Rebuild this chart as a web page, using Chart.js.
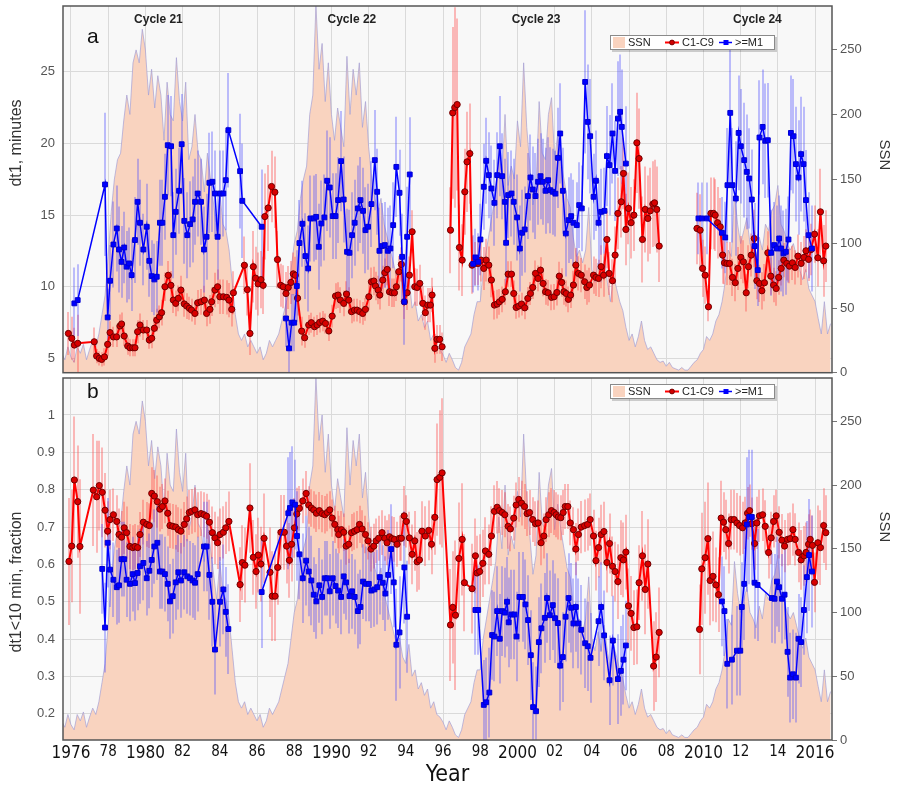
<!DOCTYPE html>
<html><head><meta charset="utf-8">
<script src="https://cdn.jsdelivr.net/npm/chart.js@4.4.1/dist/chart.umd.min.js"></script>
<style>
html,body{margin:0;padding:0;background:#fff;width:898px;height:787px;overflow:hidden}
#wa{position:absolute;left:0;top:0;width:898px;height:380px}
#wb{position:absolute;left:0;top:373px;width:898px;height:414px}
</style></head><body>
<div id="wa"><canvas id="ca"></canvas></div>
<div id="wb"><canvas id="cb"></canvas></div>
<script>
// ---------------- DATA ----------------
const xTickYears  = [1976,1978,1980,1982,1984,1986,1988,1990,1992,1994,1996,1998,2000,2002,2004,2006,2008,2010,2012,2014,2016];
const xTickLabels = ['1976','78','1980','82','84','86','88','1990','92','94','96','98','2000','02','04','06','08','2010','12','14','2016'];
const cycleLabels = ['Cycle 21','Cycle 22','Cycle 23','Cycle 24'];
const cycleYears  = [1980.7, 1991.1, 2001.0, 2012.9];
const legendLabels = ['SSN','C1-C9','>=M1'];

// Sunspot number, bi-monthly, starting 1975.5
const ssnStart = 1975.5;
const ssnValues = [
15,10,20,
12,8,20,15,22,10,
18,25,20,30,45,60,
90,125,150,165,170,195,
215,200,240,250,240,266,
250,215,235,205,230,215,
180,225,200,195,244,210,
195,225,165,175,200,170,
165,140,170,150,130,110,
140,115,110,95,70,45,
30,25,30,20,25,20,
15,20,10,15,25,20,
25,30,40,50,60,80,
100,110,135,150,160,200,
215,285,235,255,210,240,
200,180,205,190,175,245,
200,235,215,240,190,210,
175,150,135,125,135,115,
105,95,85,75,80,65,
60,75,50,55,40,45,
35,40,25,30,20,18,
14,8,15,10,4,2,
8,20,25,30,45,55,
55,80,95,110,125,140,
175,150,200,145,160,150,
195,175,240,190,160,130,
145,210,170,165,200,213,
165,185,165,150,135,128,
105,90,95,85,95,128,
80,70,85,70,90,70,
55,75,65,55,48,35,
25,30,20,28,40,25,
18,20,15,10,8,9,
5,8,4,3,2,4,
2,2,5,8,10,15,
18,28,25,30,40,45,
55,70,95,90,140,115,
100,110,120,100,95,88,
105,95,115,110,125,130,
145,115,110,100,95,100,
90,80,72,80,65,60,
55,42,30,55,30,38];

// Panel a : dt1 (minutes), C1-C9 flares
const redA_year = [
1975.86,1976.04,1976.18,1976.36,1977.25,1977.38,1977.52,1977.65,1977.80,1977.97,
1978.10,1978.28,1978.45,1978.63,1978.72,1978.86,
1979.05,1979.17,1979.32,1979.44,1979.58,1979.71,1979.89,
1980.07,1980.21,1980.34,1980.48,1980.61,1980.75,1980.87,
1981.05,1981.23,1981.37,1981.50,1981.63,1981.77,1981.91,
1982.09,1982.22,1982.36,1982.48,1982.66,1982.81,1982.99,
1983.17,1983.29,1983.47,1983.56,1983.74,1983.88,
1984.00,1984.19,1984.37,1984.49,1984.64,1984.73,
1985.32,1985.48,1985.62,1985.80,1985.92,
1986.06,1986.21,1986.33,1986.42,1986.60,1986.78,1986.96,
1987.10,1987.27,1987.41,1987.56,1987.68,1987.82,1987.95,
1988.06,1988.18,1988.40,1988.56,1988.78,1988.92,
1989.09,1989.23,1989.37,1989.53,1989.68,1989.86,
1990.04,1990.22,1990.36,1990.48,1990.66,1990.81,1990.93,
1991.08,1991.24,1991.38,1991.52,1991.68,1991.83,
1992.01,1992.15,1992.28,1992.37,1992.51,1992.60,1992.76,1992.87,
1993.00,1993.12,1993.26,1993.39,1993.49,1993.62,1993.76,1993.92,
1994.07,1994.19,1994.34,1994.48,1994.61,1994.75,1994.91,
1995.05,1995.18,1995.32,1995.41,1995.56,1995.68,1995.82,1995.95,
1996.20,
1996.40,1996.52,1996.63,1996.76,1996.88,1997.03,1997.17,1997.29,1997.44,1997.56,
1997.74,1997.89,1998.05,1998.19,1998.32,1998.46,1998.60,1998.76,1998.91,
1999.03,1999.18,1999.35,1999.50,1999.68,1999.80,1999.93,
2000.07,2000.22,2000.39,2000.56,2000.70,2000.82,2000.97,
2001.11,2001.24,2001.38,2001.51,2001.65,2001.83,2001.97,
2002.12,2002.25,2002.38,2002.50,2002.62,2002.74,2002.86,
2003.01,2003.14,2003.28,2003.43,2003.61,2003.73,2003.87,
2004.09,2004.22,2004.36,2004.50,2004.63,2004.81,2004.93,
2005.11,2005.25,2005.40,2005.58,2005.70,2005.83,2005.97,
2006.11,2006.26,2006.42,2006.54,2006.72,2006.87,
2007.01,2007.14,2007.28,2007.37,2007.49,2007.62,
2008.60,
2009.65,2009.82,2009.95,2010.09,2010.27,2010.40,2010.54,2010.63,2010.76,2010.90,
2011.03,2011.13,2011.26,2011.40,2011.56,2011.71,2011.85,
2012.01,2012.15,2012.30,2012.42,2012.57,2012.73,2012.87,
2013.01,2013.14,2013.28,2013.46,2013.62,2013.77,2013.91,
2014.04,2014.18,2014.32,2014.48,2014.62,2014.78,2014.93,
2015.08,2015.25,2015.40,2015.51,2015.65,2015.79,2015.97,
2016.15,2016.29,2016.46,2016.58];
const redA_val = [
6.74,6.40,5.93,6.05,6.16,5.16,5.00,4.93,5.10,5.98,
6.80,6.50,6.50,7.26,7.40,6.56,
5.86,5.74,5.74,5.74,6.86,7.33,6.98,
6.98,6.28,6.40,7.10,7.67,7.90,8.19,
10.0,10.8,10.1,9.07,8.84,9.19,9.77,
8.80,8.65,8.50,8.37,8.14,8.88,8.95,
9.07,8.14,8.42,8.95,9.77,10.0,
9.30,9.30,9.26,9.07,8.42,9.58,
11.5,9.80,6.74,11.4,10.6,
10.2,10.5,10.1,14.9,15.5,17.0,16.6,
11.9,10.1,10.0,9.53,9.95,10.3,10.9,
10.8,9.2,6.9,6.44,7.33,7.49,
7.21,7.33,7.51,7.60,7.44,6.91,
7.95,9.35,9.42,9.07,8.84,9.49,9.07,
8.26,8.37,8.37,8.26,8.14,8.42,
9.30,10.35,10.40,10.05,9.77,9.42,10.47,10.98,
11.21,9.65,9.58,9.58,10.0,11.05,11.56,8.95,
9.58,10.81,13.84,10.0,9.95,10.23,8.84,
8.19,8.72,8.72,9.42,5.70,6.33,6.33,5.81,
null,
13.95,22.14,22.51,22.72,12.74,11.86,16.63,18.72,19.30,11.51,
11.63,11.63,11.86,11.28,11.86,11.51,10.47,8.72,8.79,
8.95,9.12,9.65,10.88,10.88,9.53,8.56,
8.65,8.79,8.53,9.19,9.53,9.95,10.93,
10.58,11.16,10.23,9.65,9.58,9.26,9.30,
9.6,10.74,10.3,9.65,9.53,9.12,9.42,
10.12,11.51,10.93,10.81,10.35,9.95,10.12,
10.81,10.65,10.58,11.40,10.81,13.30,10.93,
10.42,12.21,15.12,15.93,17.91,14.0,15.47,
14.47,15.0,20.05,18.95,13.30,15.40,
14.77,15.30,15.77,15.86,15.40,12.84,
null,
14.07,13.95,11.28,10.81,8.60,15.12,15.12,15.0,14.47,14.19,
12.21,11.67,11.63,11.63,10.65,10.28,11.28,
12.05,11.74,9.58,11.40,12.21,13.37,10.42,
10.23,9.72,10.28,12.37,10.74,10.12,9.88,
10.65,11.28,11.86,11.63,11.44,11.67,11.35,
12.14,11.63,12.05,12.51,11.91,12.60,13.67,
12.02,15.23,11.81,12.84];
const redA_err = [
1.5,1.5,1.2,2.0,1.0,0.5,0.5,0.5,0.6,0.8,
0.8,0.7,0.7,0.8,0.8,0.7,
0.6,0.6,0.6,0.6,0.8,0.8,0.7,
0.7,0.6,0.7,0.8,0.8,0.8,0.9,
1.0,1.0,1.0,0.9,0.9,0.9,1.0,
0.9,0.9,0.8,0.8,0.8,0.9,0.9,
1.0,0.9,1.0,1.0,1.2,1.2,
1.2,1.2,1.2,1.2,1.2,1.5,
2.0,1.8,1.5,2.5,2.2,
2.2,2.0,2.0,3.0,3.0,2.5,2.5,
2.0,1.5,1.5,1.5,1.5,1.5,1.5,
1.3,1.2,1.0,0.7,0.7,0.7,
0.7,0.7,0.7,0.7,0.7,0.7,
0.8,0.9,0.9,0.9,0.9,0.9,0.9,
0.8,0.8,0.8,0.8,0.8,0.8,
0.9,1.0,1.0,1.0,1.0,1.0,1.0,1.0,
1.1,1.0,1.0,1.0,1.0,1.1,1.2,1.2,
1.2,1.3,1.5,1.3,1.3,1.3,1.2,
1.2,1.2,1.2,1.2,1.0,1.0,1.0,1.0,
null,
3,6,7,6,3,2.5,3,3.5,3.5,2,
1.5,1.5,1.5,1.5,1.5,1.3,1.2,1.0,1.0,
0.9,0.9,0.9,0.9,0.9,0.9,0.8,
0.8,0.8,0.8,0.8,0.8,0.8,0.9,
0.9,0.9,0.9,0.9,0.9,0.9,0.9,
0.9,1.0,1.0,0.9,0.9,0.9,0.9,
1.0,1.2,1.2,1.2,1.2,1.2,1.2,
1.3,1.3,1.3,1.5,1.5,2.0,1.5,
1.5,2.0,2.5,2.5,2.5,2.5,2.5,
2.5,2.5,3.5,3.5,3.0,3.0,
3.0,3.0,3.0,3.0,3.0,2.5,
null,
2.5,2.5,2.0,2.0,1.0,2.5,2.5,2.5,2.5,2.0,
2.0,1.5,1.5,1.5,1.3,1.3,1.5,
1.5,1.5,1.3,1.5,1.5,2.0,1.3,
1.3,1.3,1.3,1.5,1.3,1.2,1.2,
1.2,1.2,1.2,1.2,1.2,1.2,1.2,
1.5,1.5,1.5,1.5,1.5,1.8,2.0,
2.0,3.0,2.5,2.5];

// Panel a : dt1 (minutes), >=M1 flares
const blueA_year = [
1976.18,1976.36,1977.83,1977.97,1978.10,1978.28,1978.46,1978.58,1978.72,1978.86,1978.99,
1979.12,1979.26,1979.44,1979.58,1979.71,1979.89,
1980.07,1980.21,1980.34,1980.48,1980.61,1980.78,1980.91,
1981.05,1981.20,1981.38,1981.50,1981.63,1981.81,1981.95,
1982.09,1982.25,1982.40,1982.54,1982.67,1982.81,1982.99,
1983.15,1983.29,1983.44,1983.60,1983.74,1983.88,
1984.01,1984.19,1984.32,1984.46,1985.09,1985.21,1986.25,
1986.90,
1987.56,1987.72,1987.86,1988.00,1988.14,1988.28,1988.44,1988.60,1988.75,1988.87,
1989.05,1989.18,1989.32,1989.46,1989.62,1989.77,1989.91,
1990.07,1990.22,1990.36,1990.52,1990.66,1990.84,1990.97,
1991.11,1991.25,1991.42,1991.56,1991.70,1991.83,1991.97,
1992.15,1992.33,1992.46,1992.58,1992.72,1992.87,
1993.03,1993.17,1993.32,1993.49,1993.66,1993.80,1993.92,
1994.07,1994.21,
1996.00,
1997.62,1997.74,1997.89,1998.01,1998.19,1998.32,1998.46,1998.60,1998.76,1998.91,
1999.05,1999.18,1999.32,1999.39,1999.50,1999.68,1999.80,1999.98,
2000.13,2000.25,2000.39,2000.56,2000.70,2000.82,2000.97,
2001.11,2001.24,2001.36,2001.51,2001.65,2001.77,2001.90,
2002.04,2002.18,2002.30,2002.44,2002.60,2002.75,2002.89,
2003.01,2003.19,2003.32,2003.46,2003.64,2003.78,2003.91,
2004.09,2004.22,2004.36,2004.50,2004.68,2004.81,2004.95,
2005.11,2005.25,2005.40,2005.52,2005.61,2005.83,
2008.00,
2009.73,2009.91,2010.18,2010.99,
2011.17,2011.29,2011.44,2011.56,2011.74,2011.89,
2012.01,2012.19,2012.33,2012.46,2012.60,2012.75,2012.92,
2013.01,2013.18,2013.32,2013.46,2013.64,2013.80,2013.95,
2014.07,2014.18,2014.30,2014.43,2014.57,2014.70,2014.84,2014.97,
2015.11,2015.25,2015.38,2015.51,2015.65,2015.83];
const blueA_val = [
8.84,9.07,17.14,7.86,10.42,12.95,14.07,12.60,11.74,12.74,11.40,
11.63,10.81,13.26,15.93,14.47,12.60,
14.19,11.81,10.74,10.51,10.70,14.47,14.47,
16.28,19.88,19.81,13.60,15.23,16.70,19.95,
14.60,13.60,14.37,14.70,15.93,16.51,15.93,
12.60,13.49,17.26,17.33,16.51,13.49,
16.51,16.51,17.44,20.93,18.07,16.0,14.19,
null,
7.79,5.70,7.49,7.49,10.05,13.05,14.4,12.14,11.28,14.77,
14.77,14.88,12.79,14.42,14.84,17.40,16.93,
14.93,14.93,16.05,18.77,16.09,12.44,12.37,
13.60,14.47,15.47,16.05,15.30,13.95,14.19,
15.77,18.84,16.63,12.51,12.84,12.91,
12.51,12.67,14.30,18.37,16.56,12.09,8.95,
13.49,17.84,
null,
11.6,12.05,11.74,13.30,16.98,18.79,17.79,16.86,15.86,17.79,
19.81,17.72,15.93,13.07,16.40,16.51,15.93,14.84,
12.67,13.77,14.0,16.33,17.63,16.79,16.33,
17.33,17.72,17.33,16.70,17.44,16.74,16.63,
16.5,19.0,20.7,16.7,13.72,14.65,14.93,
14.47,14.30,15.70,15.47,24.30,21.51,20.51,
16.28,17.40,14.47,15.23,15.30,19.12,18.49,
20.70,18.09,21.74,22.21,21.16,18.60,
null,
14.77,14.77,14.77,13.77,
13.44,17.09,22.14,17.09,16.16,20.74,
19.81,18.84,18.02,17.56,16.09,12.84,11.16,
20.42,21.16,20.19,20.23,12.37,12.91,12.67,
13.37,12.67,12.33,12.44,13.30,20.74,20.51,18.56,
17.63,19.26,18.56,16.05,13.60,12.67];
const blueA_err = [
2.5,2.5,5,2,2.5,3,3,3,2.5,2.5,2.5,
2.5,2.5,3,3,3,2.5,
3,2.5,2.5,2.5,2.5,3,3,
3,3.5,3.5,3,3,3,3.5,
3,3,3,3,3,3,3,
3,3,3.5,3.5,3,3,
3,3,3.5,4,4,4,4,
null,
2,2,2,2,2.5,3,3,3,3,3,
3,3,3,3,3,3.5,3.5,
3,3,3,3.5,3,3,3,
3,3,3,3,3,3,3,
3,3.5,3,3,3,3,
3,3,3,3.5,3,3,3,
3.5,4,
null,
2,2,2,2.5,3,3,3,3,3,3,
3.5,3,3,3,3,3,3,3,
3,3,3,3,3,3,3,
3,3,3,3,3,3,3,
3,3.5,3.5,3,3,3,3,
3,3,3,3,5,4,4,
3,3.5,3,3,3,3.5,3.5,
3.5,3.5,4,4,4,4,
null,
2.5,2.5,2.5,2.5,
2.5,4,5,4,4,4,
4,4,4,3.5,3.5,3,2.5,
4,4,4,4,3,3,3,
3,3,3,3,3,4,4,4,
4,4,4,3.5,3,3];

// Panel b : fraction dt1<10 min, C1-C9 flares
const redB_year = [
1975.89,1976.04,1976.18,1976.36,1976.48,
1977.20,1977.38,1977.52,1977.68,1977.83,1977.97,
1978.10,1978.28,1978.46,1978.58,1978.72,1978.86,1978.99,
1979.17,1979.32,1979.44,1979.58,1979.71,1979.89,
1980.07,1980.21,1980.34,1980.48,1980.64,1980.78,1980.91,
1981.05,1981.20,1981.32,1981.47,1981.63,1981.77,1981.91,
1982.09,1982.22,1982.36,1982.48,1982.66,1982.81,1982.99,
1983.15,1983.29,1983.44,1983.60,1983.74,1983.88,
1984.01,1984.19,1984.32,1984.49,
1985.09,1985.21,1985.35,1985.62,1985.80,1985.95,
1986.07,1986.21,1986.38,1986.70,1986.82,1986.97,
1987.11,1987.29,1987.47,1987.59,1987.74,1987.86,
1988.01,1988.14,1988.28,1988.46,1988.64,1988.78,1988.92,
1989.05,1989.19,1989.35,1989.50,1989.64,1989.78,1989.91,
1990.04,1990.18,1990.34,1990.39,1990.54,1990.66,1990.79,1990.93,
1991.08,1991.24,1991.38,1991.51,1991.65,1991.83,1991.97,
1992.13,1992.28,1992.40,1992.54,1992.72,1992.87,1992.99,
1993.12,1993.26,1993.39,1993.53,1993.66,1993.76,1993.91,
1994.03,1994.19,1994.34,1994.48,1994.61,1994.73,1994.87,
1995.05,1995.23,1995.38,1995.56,1995.68,1995.82,1995.95,
1996.40,1996.52,1996.67,1996.85,1997.03,1997.15,1997.56,
1997.74,1997.83,1997.97,
1998.14,1998.28,1998.46,1998.60,1998.76,1998.91,
1999.03,1999.18,1999.32,1999.50,1999.62,1999.80,1999.93,
2000.07,2000.22,2000.38,2000.52,2000.65,2000.82,2000.97,
2001.11,2001.27,2001.42,2001.54,2001.68,2001.83,2001.97,
2002.08,2002.20,2002.33,2002.46,2002.57,2002.71,2002.84,
2003.01,2003.14,2003.28,2003.43,2003.61,2003.77,2003.91,
2004.09,2004.22,2004.36,2004.50,2004.65,2004.81,2004.95,
2005.11,2005.25,2005.40,2005.56,2005.70,2005.83,2005.97,
2006.11,2006.26,2006.42,2006.54,2006.72,2006.87,
2007.01,2007.32,2007.46,2007.62,
2008.60,
2009.79,2009.91,2010.09,2010.24,2010.36,2010.51,2010.67,2010.81,2010.95,
2011.08,2011.20,2011.35,2011.49,2011.65,2011.80,2011.94,
2012.10,2012.24,2012.37,2012.48,2012.60,2012.75,2012.87,
2013.01,2013.18,2013.32,2013.50,2013.64,2013.77,2013.91,
2014.07,2014.22,2014.36,2014.52,2014.66,2014.81,2014.93,
2015.11,2015.25,2015.40,2015.51,2015.65,2015.74,2015.86,2015.97,
2016.15,2016.29,2016.46,2016.58];
const redB_val = [
0.608,0.649,0.826,0.768,0.648,
0.799,0.781,0.811,0.793,0.745,0.689,
0.720,0.733,0.715,0.680,0.673,0.698,0.685,
0.648,0.645,0.648,0.645,0.680,0.713,
0.707,0.704,0.790,0.783,0.768,0.748,0.755,
0.770,0.737,0.704,0.702,0.700,0.693,0.689,
0.707,0.722,0.739,0.742,0.746,0.733,0.736,
0.733,0.729,0.713,0.685,0.671,0.658,
0.680,0.686,0.698,0.715,
0.546,0.605,0.598,0.751,0.619,0.581,
0.625,0.601,0.670,0.579,0.515,0.515,
0.592,0.686,0.686,0.649,0.611,0.654,
0.698,0.735,0.750,0.770,0.790,0.759,0.751,
0.746,0.737,0.744,0.736,0.733,0.739,0.746,
0.724,0.707,0.693,0.680,0.693,0.686,0.649,0.654,
0.685,0.689,0.693,0.707,0.695,0.680,0.663,
0.641,0.649,0.663,0.670,0.685,0.670,0.658,
0.674,0.669,0.667,0.654,0.670,0.670,0.730,
0.715,0.671,0.627,0.663,0.607,0.612,0.689,
0.676,0.691,0.654,0.726,0.827,0.833,0.845,
0.438,0.485,0.464,0.616,0.667,0.551,0.535,
0.623,0.577,0.581,
0.603,0.636,0.627,0.676,0.742,0.753,
0.744,0.739,0.733,0.702,0.695,0.724,0.759,
0.774,0.764,0.755,0.736,0.739,0.720,0.709,
0.711,0.658,0.676,0.720,0.733,0.744,0.739,
0.733,0.727,0.725,0.739,0.755,0.755,0.711,
0.693,0.641,0.680,0.700,0.704,0.707,0.720,
0.676,0.610,0.645,0.680,0.688,0.605,0.656,
0.595,0.581,0.554,0.618,0.612,0.633,0.489,
0.469,0.431,0.433,0.551,0.623,0.533,
0.601,0.328,0.352,0.418,
null,
0.426,0.588,0.618,0.669,0.557,0.568,0.545,0.519,0.724,
0.713,0.693,0.656,0.720,0.720,0.711,0.704,
0.698,0.711,0.737,0.744,0.709,0.656,0.711,
0.730,0.733,0.702,0.632,0.671,0.715,0.730,
0.686,0.665,0.649,0.667,0.669,0.693,0.667,
0.632,0.612,0.623,0.632,0.654,0.667,0.651,0.552,
0.658,0.645,0.704,0.685];
const redB_err = [
0.17,0.15,0.17,0.15,0.18,
0.15,0.15,0.12,0.12,0.10,0.08,
0.08,0.07,0.07,0.07,0.07,0.07,0.07,
0.06,0.06,0.06,0.06,0.06,0.06,
0.06,0.06,0.07,0.07,0.07,0.06,0.06,
0.06,0.06,0.06,0.06,0.06,0.06,0.06,
0.06,0.06,0.06,0.06,0.06,0.06,0.06,
0.06,0.06,0.06,0.07,0.07,0.07,
0.07,0.07,0.07,0.08,
0.10,0.10,0.10,0.12,0.10,0.10,
0.10,0.10,0.12,0.12,0.12,0.12,
0.10,0.10,0.10,0.10,0.10,0.10,
0.08,0.07,0.06,0.06,0.06,0.05,0.05,
0.05,0.05,0.05,0.05,0.05,0.05,0.05,
0.05,0.05,0.05,0.05,0.05,0.05,0.05,0.05,
0.05,0.05,0.05,0.05,0.05,0.05,0.05,
0.06,0.06,0.06,0.06,0.06,0.06,0.06,
0.06,0.06,0.06,0.06,0.06,0.06,0.08,
0.07,0.07,0.08,0.08,0.08,0.08,0.08,
0.08,0.08,0.08,0.10,0.15,0.18,0.20,
0.15,0.15,0.20,0.15,0.15,0.13,0.12,
0.10,0.10,0.10,
0.09,0.09,0.08,0.08,0.07,0.07,
0.06,0.06,0.06,0.06,0.06,0.06,0.06,
0.06,0.06,0.06,0.06,0.06,0.06,0.06,
0.06,0.06,0.06,0.06,0.06,0.06,0.06,
0.06,0.06,0.06,0.06,0.06,0.06,0.06,
0.06,0.07,0.07,0.07,0.07,0.07,0.07,
0.07,0.08,0.08,0.08,0.08,0.08,0.08,
0.08,0.08,0.10,0.10,0.10,0.10,0.10,
0.10,0.10,0.10,0.10,0.12,0.12,
0.12,0.12,0.12,0.12,
null,
0.12,0.15,0.15,0.15,0.12,0.12,0.10,0.10,0.10,
0.08,0.08,0.08,0.08,0.08,0.08,0.08,
0.07,0.07,0.07,0.07,0.07,0.07,0.07,
0.07,0.07,0.07,0.07,0.07,0.07,0.07,
0.07,0.07,0.07,0.07,0.07,0.07,0.07,
0.08,0.08,0.08,0.08,0.08,0.08,0.08,0.08,
0.10,0.10,0.10,0.10];

// Panel b : fraction dt1<10 min, >=M1 flares
const blueB_year = [
1977.68,1977.83,1977.97,1978.10,1978.28,1978.46,1978.58,1978.72,1978.86,1978.99,
1979.17,1979.32,1979.44,1979.58,1979.71,1979.89,
1980.07,1980.21,1980.34,1980.48,1980.64,1980.78,1980.91,
1981.05,1981.20,1981.32,1981.47,1981.63,1981.77,1981.91,
1982.09,1982.25,1982.40,1982.54,1982.67,1982.81,
1983.15,1983.29,1983.44,1983.60,1983.74,
1984.01,1984.19,1984.32,1984.46,
1985.30,
1986.25,1987.68,1987.77,1987.90,1988.04,1988.15,1988.28,1988.46,1988.64,1988.78,1988.92,
1989.05,1989.19,1989.35,1989.50,1989.64,1989.78,1989.91,
1990.07,1990.22,1990.36,1990.52,1990.66,1990.79,1990.97,
1991.11,1991.25,1991.42,1991.56,1991.70,1991.86,
1992.01,1992.15,1992.31,1992.46,1992.60,1992.76,1992.90,
1993.05,1993.21,1993.35,1993.49,1993.66,1993.92,
1994.07,
1996.00,
1997.74,1997.89,1998.19,1998.32,1998.49,1998.64,1998.76,1998.91,
1999.05,1999.18,1999.32,1999.44,1999.53,1999.68,1999.84,1999.95,
2000.11,2000.29,2000.43,2000.57,2000.72,2000.84,2001.00,
2001.15,2001.29,2001.47,2001.59,2001.74,2001.90,
2002.02,2002.17,2002.30,2002.44,2002.59,2002.75,2002.89,
2003.01,2003.14,2003.28,2003.43,2003.64,2003.78,2003.93,
2004.36,2004.50,2004.66,2004.95,
2005.13,2005.40,2005.56,2005.70,2005.83,
2008.00,
2010.99,2011.13,2011.28,2011.53,2011.80,2011.98,
2012.06,2012.19,2012.33,2012.46,2012.60,2012.75,2012.91,
2013.68,2013.82,2013.95,
2014.07,2014.22,2014.36,2014.52,2014.66,2014.81,2014.97,
2015.11,2015.25,2015.40,2015.56,2015.68,2015.83];
const blueB_val = [
0.588,0.431,0.658,0.586,0.559,0.539,0.544,0.614,0.614,0.559,
0.548,0.574,0.550,0.577,0.595,0.604,
0.563,0.583,0.612,0.648,0.658,0.581,0.581,
0.574,0.548,0.501,0.515,0.552,0.579,0.557,
0.579,0.568,0.563,0.557,0.551,0.574,
0.648,0.648,0.572,0.500,0.372,
0.500,0.533,0.473,0.427,
null,
0.526,0.737,0.751,0.766,0.760,0.676,0.627,0.563,0.610,0.581,0.557,
0.519,0.501,0.544,0.513,0.563,0.563,0.528,
0.563,0.542,0.530,0.513,0.568,0.552,0.515,
0.528,0.513,0.475,0.486,0.554,0.548,
0.548,0.530,0.533,0.539,0.566,0.551,0.522,
0.572,0.641,0.552,0.385,0.418,0.592,
0.460,
null,
0.478,0.478,0.224,0.231,0.257,0.411,0.407,0.475,
0.401,0.475,0.471,0.500,0.445,0.466,0.466,0.407,
0.513,0.513,0.493,0.451,0.357,0.218,0.207,
0.392,0.429,0.457,0.510,0.464,0.491,
0.456,0.443,0.329,0.352,0.460,0.510,0.484,
0.442,0.486,0.442,0.425,0.389,0.381,0.350,
0.448,0.486,0.410,0.290,
0.396,0.293,0.315,0.345,0.383,
null,
0.501,0.475,0.334,0.345,0.369,0.369,
0.486,0.548,0.707,0.727,0.727,0.551,0.545,
0.510,0.508,0.554,
0.539,0.508,0.519,0.366,0.297,0.306,0.297,
0.401,0.392,0.478,0.566,0.625,0.581];
const blueB_err = [
0.12,0.12,0.12,0.10,0.10,0.10,0.10,0.10,0.10,0.10,
0.10,0.10,0.10,0.10,0.10,0.10,
0.10,0.10,0.10,0.10,0.10,0.10,0.10,
0.10,0.10,0.10,0.10,0.10,0.10,0.10,
0.10,0.10,0.10,0.10,0.10,0.10,
0.12,0.12,0.12,0.12,0.12,
0.12,0.12,0.12,0.12,
null,
0.15,0.15,0.15,0.15,0.12,0.12,0.12,0.12,0.12,0.12,0.12,
0.10,0.10,0.10,0.10,0.10,0.10,0.10,
0.10,0.10,0.10,0.10,0.10,0.10,0.10,
0.10,0.10,0.10,0.10,0.10,0.10,
0.10,0.10,0.10,0.10,0.10,0.10,0.10,
0.12,0.12,0.12,0.15,0.15,0.15,
0.15,
null,
0.12,0.12,0.12,0.12,0.12,0.12,0.12,0.12,
0.12,0.12,0.12,0.12,0.12,0.12,0.12,0.12,
0.12,0.12,0.12,0.12,0.12,0.12,0.12,
0.12,0.12,0.12,0.12,0.12,0.12,
0.12,0.12,0.12,0.12,0.12,0.12,0.12,
0.12,0.12,0.12,0.12,0.12,0.12,0.12,
0.12,0.12,0.12,0.12,
0.12,0.12,0.12,0.12,0.12,
null,
0.12,0.12,0.12,0.12,0.12,0.12,
0.12,0.15,0.18,0.18,0.18,0.15,0.15,
0.12,0.12,0.12,
0.12,0.12,0.12,0.12,0.12,0.12,0.12,
0.12,0.12,0.12,0.15,0.15,0.15];

// ---------------- RENDER ----------------
const FONT = "'Liberation Sans', Arial, sans-serif";
const NARROW = "'DejaVu Sans Condensed', 'Liberation Sans Narrow', sans-serif";
Chart.defaults.font.family = FONT;
const PEACH = '#F9D3BF';

function pts(xs, vs){ return xs.map((x,i)=>({x:x, y:vs[i]})); }
const ssnPts = ssnValues.map((v,i)=>({x: ssnStart + i/6, y: v}));

const bgPlugin = { id:'bg', beforeDraw(c){ const {ctx, chartArea:a}=c; ctx.save(); ctx.fillStyle='#f8f8f8'; ctx.fillRect(a.left,a.top,a.width,a.height); ctx.restore(); } };
const errPlugin = { id:'err', afterDatasetDraw(c, args){
  if (args.index !== 0) return;
  const {ctx, chartArea:a} = c;
  ctx.save(); ctx.beginPath(); ctx.rect(a.left,a.top,a.width,a.height); ctx.clip();
  c.data.datasets.forEach(ds=>{
    if(!ds.errors) return;
    const ys = c.scales[ds.yAxisID], xs = c.scales.x;
    ctx.strokeStyle = ds.errColor; ctx.lineWidth = 2;
    ds.data.forEach((p,i)=>{
      const e = ds.errors[i];
      if (p.y == null || e == null) return;
      const px = Math.round(xs.getPixelForValue(p.x));
      ctx.beginPath();
      ctx.moveTo(px, ys.getPixelForValue(p.y - e));
      ctx.lineTo(px, ys.getPixelForValue(p.y + e));
      ctx.stroke();
    });
  });
  ctx.restore();
}};

function drawLegend(ctx, top){
  const h = 15;
  ctx.save();
  ctx.fillStyle = 'rgba(0,0,0,0.18)'; ctx.fillRect(612, top+2, 165, h);
  ctx.fillStyle = '#fff'; ctx.fillRect(610, top, 165, h);
  ctx.strokeStyle = '#8a8a8a'; ctx.lineWidth = 1; ctx.strokeRect(610.5, top+0.5, 164, h-1);
  const cy = top + h/2;
  ctx.fillStyle = PEACH; ctx.fillRect(613, top+2, 12, 11);
  ctx.font = '11px ' + FONT; ctx.fillStyle = '#222'; ctx.textBaseline = 'middle'; ctx.textAlign='left';
  ctx.fillText(legendLabels[0], 628, cy+0.5);
  ctx.strokeStyle = '#ff0000'; ctx.lineWidth = 2; ctx.beginPath(); ctx.moveTo(665, cy); ctx.lineTo(679, cy); ctx.stroke();
  ctx.fillStyle = '#d00000'; ctx.strokeStyle='#700'; ctx.lineWidth=1; ctx.beginPath(); ctx.arc(672, cy, 2.4, 0, Math.PI*2); ctx.fill(); ctx.stroke();
  ctx.fillStyle = '#222'; ctx.fillText(legendLabels[1], 682, cy+0.5);
  ctx.strokeStyle = '#0000ff'; ctx.lineWidth = 1.5; ctx.beginPath(); ctx.moveTo(719, cy); ctx.lineTo(732, cy); ctx.stroke();
  ctx.fillStyle = '#0000ff'; ctx.fillRect(723.5, cy-2.5, 5, 5);
  ctx.fillStyle = '#222'; ctx.fillText(legendLabels[2], 735, cy+0.5);
  ctx.restore();
}
function vText(ctx, txt, x, y, rot, font){
  ctx.save(); ctx.translate(x, y); ctx.rotate(rot); ctx.font = font; ctx.fillStyle='#333';
  ctx.textAlign='center'; ctx.textBaseline='middle'; ctx.fillText(txt, 0, 0); ctx.restore();
}

function makeOverlay(panel){
  return { id:'overlay'+panel, afterDraw(c){
    const {ctx, chartArea:a} = c;
    ctx.save();
    ctx.strokeStyle = '#555'; ctx.lineWidth = 1.5;
    ctx.strokeRect(a.left, a.top, a.width, a.height);
    ctx.fillStyle = '#111'; ctx.font = '21px ' + FONT; ctx.textAlign='left'; ctx.textBaseline='alphabetic';
    if (panel === 'a') {
      ctx.fillText('a', 87, 43);
      ctx.font = 'bold 12px ' + FONT; ctx.textAlign='center'; ctx.textBaseline='middle'; ctx.fillStyle='#222';
      cycleLabels.forEach((t,i)=> ctx.fillText(t, c.scales.x.getPixelForValue(cycleYears[i]), 20));
      drawLegend(ctx, 35);
      vText(ctx, 'dt1, minutes', 17, 143, -Math.PI/2, '16px ' + FONT);
      vText(ctx, 'SSN', 884, 155, Math.PI/2, '15px ' + FONT);
    } else {
      ctx.fillText('b', 87, 25);
      drawLegend(ctx, 11);
      vText(ctx, 'dt1<10 min, fraction', 17, 209, -Math.PI/2, '16px ' + FONT);
      vText(ctx, 'SSN', 884, 154, Math.PI/2, '15px ' + FONT);
    }
    ctx.restore();
  }};
}

function zeroPad(s){ s.paddingTop = 0; s.paddingBottom = 0; s.paddingLeft = 0; s.paddingRight = 0; }

function makeChart(id, panel, redX, redV, redE, blueX, blueV, blueE, yMin, yMax, yStep, isBottom){
  const canvasH = panel === 'a' ? 380 : 414;
  const areaBottom = panel === 'a' ? 372.7 : 367;
  return new Chart(document.getElementById(id), {
    type: 'line',
    data: { datasets: [
      { label:'SSN', data: ssnPts, yAxisID:'y2', fill:'origin', backgroundColor: PEACH,
        borderColor:'rgba(165,160,212,0.7)', borderWidth:1, pointRadius:0, tension:0, order:3 },
      { label:'C1-C9', data: pts(redX, redV), errors: redE, errColor:'rgba(255,70,70,0.36)', yAxisID:'y',
        borderColor:'#ff0000', borderWidth:2, pointRadius:3.1, pointBackgroundColor:'#d80000',
        pointBorderColor:'#700000', pointBorderWidth:1, tension:0, spanGaps:false, order:1 },
      { label:'>=M1', data: pts(blueX, blueV), errors: blueE, errColor:'rgba(70,70,255,0.34)', yAxisID:'y',
        borderColor:'#0000ff', borderWidth:1.5, pointStyle:'rect', pointRadius:3.4, pointBackgroundColor:'#0000ff',
        pointBorderColor:'#0000d0', pointBorderWidth:1, tension:0, spanGaps:false, order:0 }
    ]},
    options: {
      responsive:true, maintainAspectRatio:false, animation:false, devicePixelRatio:1,
      layout:{ padding:{ top: panel==='a' ? 6 : 0, left:0, right:0, bottom:0 } },
      plugins:{ legend:{display:false}, tooltip:{enabled:false} },
      scales:{
        x:{ type:'linear', min:1975.57, max:2016.91,
            grid:{ color:'#dadada', lineWidth:1, drawTicks:false },
            border:{ display:false },
            ticks:{ display:isBottom, stepSize:2, includeBounds:false, padding:3, color:'#111', autoSkip:false, maxRotation:0,
              callback:(v)=>{ const i = xTickYears.indexOf(Math.round(v)); return i>=0 ? xTickLabels[i] : ''; },
              font:(ctx)=>{ const v = ctx.tick ? Math.round(ctx.tick.value) : 0; const i = xTickYears.indexOf(v); const full = i>=0 && xTickLabels[i].length===4; return { family: NARROW, size: full ? 17 : 15 }; } },
            title:{ display:isBottom, text:'Year', color:'#111', font:{ family: NARROW, size:23, lineHeight:1 }, padding:{top:0,bottom:0} },
            afterFit:(s)=>{ s.height = canvasH - areaBottom; zeroPad(s); } },
        y:{ type:'linear', position:'left', min:yMin, max:yMax,
            grid:{ color:'#dadada', lineWidth:1, drawTicks:false },
            border:{ display:false },
            ticks:{ stepSize:yStep, includeBounds:false, padding:8, color:'#555', font:{ size:13 },
              callback:(v)=> String(+(+v).toFixed(1)) },
            afterFit:(s)=>{ s.width = 63; zeroPad(s); } },
        y2:{ type:'linear', position:'right', min:0, max:284,
            grid:{ drawOnChartArea:false, drawTicks:true, tickLength:5, color:'#777' },
            border:{ display:false },
            ticks:{ stepSize:50, includeBounds:false, padding:3, color:'#555', font:{ size:13 } },
            afterFit:(s)=>{ s.width = 66; zeroPad(s); } }
      }
    },
    plugins:[bgPlugin, errPlugin, makeOverlay(panel)]
  });
}

makeChart('ca','a', redA_year, redA_val, redA_err, blueA_year, blueA_val, blueA_err, 4.0, 29.6, 5, false);
makeChart('cb','b', redB_year, redB_val, redB_err, blueB_year, blueB_val, blueB_err, 0.13, 1.099, 0.1, true);
</script>
</body></html>
